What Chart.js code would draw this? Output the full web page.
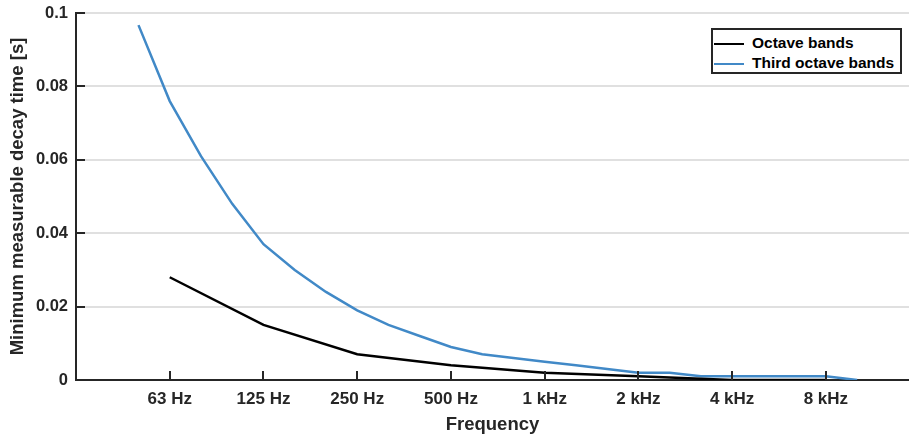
<!DOCTYPE html>
<html lang="en">
<head>
    <meta charset="UTF-8">
    <title>Minimum measurable decay time</title>
    <script src="https://cdn.jsdelivr.net/npm/chart.js"></script>
    <style>
        body {
            margin: 0;
            background: #fff;
        }
        .wrap {
            position: relative;
            width: 909px;
            height: 439px;
        }
        .legend {
            position: absolute;
            left: 711px;
            top: 28px;
            width: 191px;
            height: 46px;
            border: 2px solid #262626;
            background: #fff;
            font: bold 15.5px "Liberation Sans", Arial, sans-serif;
            color: #000;
            padding: 3px 0 0 1px;
            box-sizing: border-box;
        }
        .legend div {
            height: 20px;
            line-height: 20px;
            white-space: nowrap;
        }
        .legend span {
            display: inline-block;
            width: 30px;
            height: 0;
            border-top: 2.5px solid;
            vertical-align: middle;
            margin-right: 8px;
        }
    </style>
</head>
<body>
    <div class="wrap">
        <canvas id="decayChart" width="909" height="439"></canvas>
        <div class="legend">
            <div><span style="border-color:#000"></span>Octave bands</div>
            <div><span style="border-color:#4189c7"></span>Third octave bands</div>
        </div>
    </div>

    <script>
        // third octave band centres (x position = index in this list)
        const thirdBands = ['50 Hz', '63 Hz', '80 Hz', '100 Hz', '125 Hz', '160 Hz', '200 Hz', '250 Hz',
            '315 Hz', '400 Hz', '500 Hz', '630 Hz', '800 Hz', '1 kHz', '1.25 kHz', '1.6 kHz', '2 kHz',
            '2.5 kHz', '3.15 kHz', '4 kHz', '5 kHz', '6.3 kHz', '8 kHz', '10 kHz'];
        const thirdValues = [0.0967, 0.076, 0.061, 0.048, 0.037, 0.030, 0.024, 0.019,
            0.015, 0.012, 0.009, 0.007, 0.006, 0.005, 0.004, 0.003, 0.002,
            0.002, 0.001, 0.001, 0.001, 0.001, 0.001, 0];

        const octaveBands = ['63 Hz', '125 Hz', '250 Hz', '500 Hz', '1 kHz', '2 kHz', '4 kHz', '8 kHz'];
        const octaveValues = [0.028, 0.015, 0.007, 0.004, 0.002, 0.001, 0, 0];

        const yTicks = [0, 0.02, 0.04, 0.06, 0.08, 0.1];

        const thirdPoints = thirdValues.map((v, i) => ({ x: i, y: v }));
        const octavePoints = octaveValues.map((v, i) => ({ x: thirdBands.indexOf(octaveBands[i]), y: v }));
        const xTickPos = octaveBands.map(b => thirdBands.indexOf(b));

        const axisColor = '#262626';
        const font = { family: '"Liberation Sans", Arial, sans-serif', weight: 'bold' };

        // ticks drawn inward like the original figure
        const inwardTicks = {
            id: 'inwardTicks',
            afterDatasetsDraw(chart) {
                const { ctx, chartArea, scales } = chart;
                ctx.save();
                ctx.strokeStyle = axisColor;
                ctx.lineWidth = 2;
                ctx.beginPath();
                yTicks.forEach(t => {
                    const y = Math.round(scales.y.getPixelForValue(t));
                    ctx.moveTo(chartArea.left, y);
                    ctx.lineTo(chartArea.left + 9, y);
                });
                xTickPos.forEach(t => {
                    const x = Math.round(scales.x.getPixelForValue(t));
                    ctx.moveTo(x, chartArea.bottom);
                    ctx.lineTo(x, chartArea.bottom - 9);
                });
                ctx.stroke();
                ctx.restore();
            }
        };

        new Chart(document.getElementById('decayChart'), {
            type: 'line',
            data: {
                datasets: [{
                    label: 'Octave bands',
                    data: octavePoints,
                    borderColor: '#000',
                    borderWidth: 2.5,
                    pointRadius: 0,
                    tension: 0
                }, {
                    label: 'Third octave bands',
                    data: thirdPoints,
                    borderColor: '#4189c7',
                    borderWidth: 2.5,
                    pointRadius: 0,
                    tension: 0
                }]
            },
            options: {
                responsive: false,
                animation: false,
                layout: { padding: { top: 13, right: 0, left: 0, bottom: 0 } },
                plugins: {
                    legend: { display: false },
                    tooltip: { enabled: false }
                },
                scales: {
                    x: {
                        type: 'linear',
                        min: -2,
                        max: 24.66,
                        afterBuildTicks: s => { s.ticks = xTickPos.map(v => ({ value: v })); },
                        afterFit: s => { s.height = 59; s.paddingLeft = 0; s.paddingRight = 0; },
                        grid: { display: false, drawTicks: false },
                        border: { color: axisColor, width: 2 },
                        ticks: {
                            padding: 9,
                            color: axisColor,
                            font: { ...font, size: 17 },
                            callback: v => thirdBands[v]
                        },
                        title: {
                            display: true,
                            text: 'Frequency',
                            color: axisColor,
                            font: { ...font, size: 18.5 },
                            padding: { top: 0, bottom: 3 }
                        }
                    },
                    y: {
                        min: 0,
                        max: 0.1,
                        afterBuildTicks: s => { s.ticks = yTicks.map(v => ({ value: v })); },
                        afterFit: s => { s.width = 76; s.paddingTop = 0; s.paddingBottom = 0; },
                        grid: { color: '#e0e0e0', lineWidth: 2, drawTicks: false },
                        border: { color: axisColor, width: 2 },
                        ticks: {
                            padding: 8,
                            color: axisColor,
                            font: { ...font, size: 16.5 },
                            callback: v => String(v)
                        },
                        title: {
                            display: true,
                            text: 'Minimum measurable decay time [s]',
                            color: axisColor,
                            font: { ...font, size: 18.5 },
                            padding: { top: 7, bottom: 0 }
                        }
                    }
                }
            },
            plugins: [inwardTicks]
        });
    </script>
</body>
</html>
